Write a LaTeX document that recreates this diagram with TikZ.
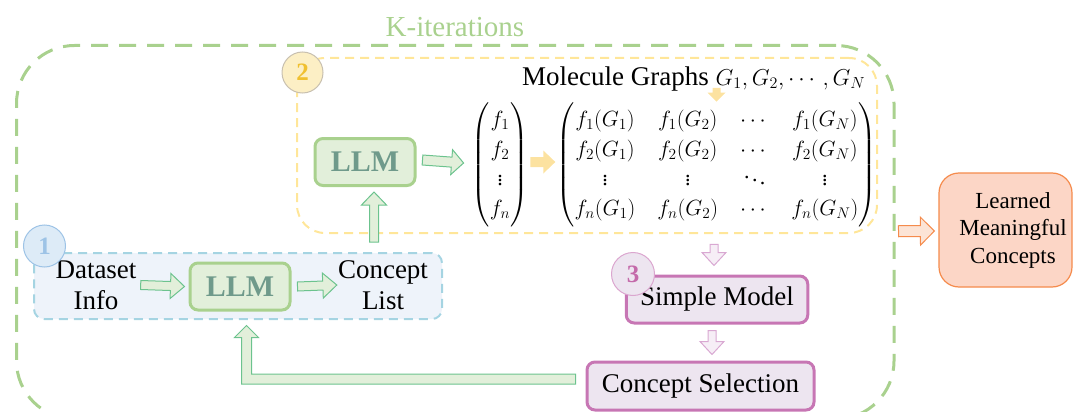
\documentclass[tikz,border=0pt]{standalone}
\usepackage{fix-cm}
\usepackage{amsmath}
\usepackage{fontspec}
\setmainfont{Liberation Serif}
\usetikzlibrary{calc}
\definecolor{kgreen}{HTML}{A9D18E}
\definecolor{llmfill}{HTML}{E2EFDA}
\definecolor{llmtext}{HTML}{6F9A8B}
\definecolor{arrgreen}{HTML}{6CC38E}
\definecolor{ylw}{HTML}{FFE699}
\definecolor{ylwarrow}{HTML}{FCE2A0}
\definecolor{bluedash}{HTML}{A5D4E2}
\definecolor{bluefill}{HTML}{EEF3FA}
\definecolor{c1fill}{HTML}{DDEBF7}
\definecolor{c1line}{HTML}{9DC3E6}
\definecolor{c2fill}{HTML}{FCEFC5}
\definecolor{c2line}{HTML}{C8C0B0}
\definecolor{c2text}{HTML}{F0C030}
\definecolor{purp}{HTML}{C776B4}
\definecolor{purpfill}{HTML}{EDE5F0}
\definecolor{purparr}{HTML}{D9A8D2}
\definecolor{purparrfill}{HTML}{F6EEF6}
\definecolor{c3line}{HTML}{DBA6CF}
\definecolor{c3text}{HTML}{C46AAA}
\definecolor{orng}{HTML}{F58B4C}
\definecolor{orfill}{HTML}{FCD6C6}
\definecolor{orarrfill}{HTML}{FCE4D6}
% block arrow: style, from, to, shaft half width, head half width, head length
\newcommand\blockarrow[6]{%
  \path (#2) coordinate (ba-s) (#3) coordinate (ba-e);
  \path ($(ba-e)!#6!(ba-s)$) coordinate (ba-b);
  \draw[#1] ($(ba-s)!#4!90:(ba-e)$) -- ($(ba-b)!#4!90:(ba-e)$) -- ($(ba-b)!#5!90:(ba-e)$)
    -- (ba-e) -- ($(ba-b)!#5!-90:(ba-e)$) -- ($(ba-b)!#4!-90:(ba-e)$)
    -- ($(ba-s)!#4!-90:(ba-e)$) -- cycle;
}
\begin{document}
\begin{tikzpicture}[x=1pt,y=-1pt,
  every node/.style={inner sep=0pt, font=\fontsize{27}{31}\selectfont},
  kboxst/.style={draw=kgreen, line width=3pt, dash pattern=on 17pt off 11pt,
    rounded corners=58pt, minimum width=877.5pt, minimum height=373.5pt},
  yboxst/.style={draw=ylw, line width=2pt, dash pattern=on 9pt off 6pt,
    rounded corners=28pt, minimum width=580pt, minimum height=175pt},
  dsboxst/.style={draw=bluedash, fill=bluefill, line width=2pt, dash pattern=on 9pt off 6pt,
    rounded corners=10pt, minimum width=408pt, minimum height=66pt},
  llmst/.style={fill=llmfill, draw=kgreen, line width=3pt, rounded corners=8pt,
    minimum width=100pt, minimum height=47pt, text=llmtext,
    font=\fontsize{30}{30}\selectfont\bfseries},
  purpbox/.style={fill=purpfill, draw=purp, line width=3pt, rounded corners=8pt},
  numcirc/.style={circle, line width=1pt, minimum size=42pt,
    font=\fontsize{25}{25}\selectfont\bfseries},
  mathst/.style={font=\fontsize{22}{29.5}\selectfont},
  garrow/.style={draw=arrgreen, fill=llmfill, line width=1pt, line join=miter},
  yarrow/.style={fill=ylwarrow, draw=none},
  parrow/.style={draw=purparr, fill=purparrfill, line width=1pt},
  oarrow/.style={draw=orng, fill=orarrfill, line width=1pt},
  learnst/.style={fill=orfill, draw=orng, line width=1.2pt, rounded corners=20pt,
    minimum width=133pt, minimum height=114pt, align=center,
    font=\fontsize{23}{27.5}\selectfont}
]
\useasboundingbox (0,0) rectangle (1074,412);
\clip (0,0) rectangle (1074,412);

% outer K-iterations box
\node[kboxst] (kbox) at (455.25,232.25) {};
\node[text=kgreen, font=\fontsize{29}{29}\selectfont] (kiter) at (455,27.5) {K-iterations};

% stage 2 box
\node[yboxst] (ybox) at (587,145.5) {};
% stage 1 box
\node[dsboxst] (dsbox) at (238,286) {};

% stage 1 content
\node[align=center] (dsinfo) at (96,285) {Dataset\\Info};
\node[llmst] (llmB) at (240,286.5) {LLM};
\node[align=center] (cl) at (383,285) {Concept\\List};

% stage 2 content
\node[llmst] (llmA) at (365,162) {LLM};
\node[mathst] (vec) at (500,165)
  {$\begin{pmatrix} f_1\\ f_2\\ \vdots\\ f_n \end{pmatrix}$};
\node[mathst] (mat) at (716.5,165)
  {$\arraycolsep=11pt\begin{pmatrix}
   f_1(G_1) & f_1(G_2) & \cdots & f_1(G_N)\\
   f_2(G_1) & f_2(G_2) & \cdots & f_2(G_N)\\
   \vdots & \vdots & \ddots & \vdots\\
   f_n(G_1) & f_n(G_2) & \cdots & f_n(G_N)
  \end{pmatrix}$};
\node[anchor=base west] (mg) at (522,85)
  {Molecule Graphs {\fontsize{23}{27}\selectfont $G_1,G_2,\cdots,G_N$}};

% stage 3 content
\node[purpbox, minimum width=181.5pt, minimum height=47pt] (sm) at (717,299.5) {Simple Model};
\node[purpbox, minimum width=227pt, minimum height=48pt] (cs) at (700.5,386) {Concept Selection};

% output
\node[learnst] (learned) at (1005.5,230)
  {\hspace*{15pt}Learned\\\hspace*{15pt}Meaningful\\\hspace*{15pt}Concepts};

% connectors
\blockarrow{garrow}{$(dsinfo.east)+(4,0)$}{$(llmB.west)+(-4,0)$}{4.5pt}{12.5pt}{14pt}
\blockarrow{garrow}{$(llmB.east)+(6,0)$}{$(cl.west)+(-1,0)$}{4.5pt}{12.5pt}{14pt}
\blockarrow{garrow}{$(cl.north)+(-9,-18)$}{$(llmA.south)+(9,5)$}{4.5pt}{12.5pt}{13pt}
\blockarrow{garrow}{$(llmA.east)+(6,-2)$}{$(vec.west)+(-8,-2)$}{5pt}{12.5pt}{12pt}
\blockarrow{yarrow}{$(vec.east)+(2,-3)$}{$(mat.west)+(-1,-3)$}{5pt}{11.5pt}{12pt}
\coordinate (mgd) at (mat.north |- mg.south);
\blockarrow{yarrow}{$(mgd)+(0,-3)$}{$(mat.north)+(0,-1)$}{4pt}{9pt}{9pt}
\blockarrow{parrow}{$(mat.south)+(-2.5,17)$}{$(sm.north)+(-3,-9)$}{4pt}{12pt}{13pt}
\blockarrow{parrow}{$(sm.south)+(-5,6)$}{$(cs.north)+(11.5,-6)$}{4pt}{12pt}{13pt}
\blockarrow{oarrow}{$(kbox.east)+(3,-1)$}{$(learned.west)+(-4,1)$}{5.5pt}{14pt}{14pt}

% feedback arrow from concept selection to lower LLM
\draw[garrow] let \p1=($(cs.west)+(-10,-7)$), \p2=($(llmB.south)+(6.5,14)$) in
  (\x1,{\y1+5pt}) -- ({\x2+5pt},{\y1+5pt}) -- ({\x2+5pt},{\y2-12pt})
  -- ({\x2+12pt},{\y2-12pt}) -- (\x2,\y2) -- ({\x2-12pt},{\y2-12pt})
  -- ({\x2-5pt},{\y2-12pt}) -- ({\x2-5pt},{\y1-5pt}) -- (\x1,{\y1-5pt}) -- cycle;

% stage numbers
\node[numcirc, fill=c1fill, draw=c1line, text=c1line] (c1) at (44.5,246) {1};
\node[numcirc, fill=c2fill, draw=c2line, text=c2text, minimum size=41pt] (c2) at (302.5,72.5) {2};
\node[numcirc, fill=purpfill, draw=c3line, text=c3text, minimum size=43pt] (c3) at (633,274) {3};
\end{tikzpicture}
\end{document}
